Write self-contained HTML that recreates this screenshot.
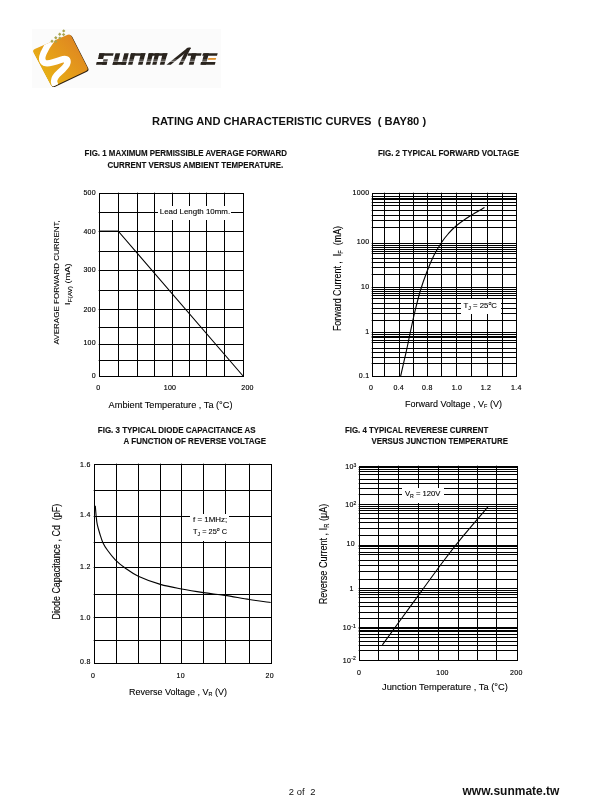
<!DOCTYPE html>
<html><head><meta charset="utf-8"><style>
html,body{margin:0;padding:0;background:#fff;width:610px;height:810px;overflow:hidden}
svg{position:absolute;left:0;top:0;font-family:"Liberation Sans",sans-serif;will-change:transform}
.tk{font-size:7px;fill:#000;letter-spacing:0.3px;stroke:#000;stroke-width:0.15px}
.ax{font-size:8.5px;fill:#000;stroke:#000;stroke-width:0.1px}
.ti{font-size:9.8px;font-weight:bold;fill:#111;stroke:#111;stroke-width:0.15px}
.hd{font-size:10.3px;font-weight:bold;fill:#111}
.an{font-size:7.5px;fill:#000;stroke:#000;stroke-width:0.1px}
</style></head><body>
<svg width="610" height="810" viewBox="0 0 610 810">
<rect x="32" y="29" width="189" height="59" fill="#fbfbfb"/>
<defs><linearGradient id="lg" x1="34" y1="84" x2="86" y2="38" gradientUnits="userSpaceOnUse"><stop offset="0" stop-color="#e9bc10"/><stop offset="0.5" stop-color="#e59d1a"/><stop offset="1" stop-color="#dc7f24"/></linearGradient>
<clipPath id="sqc"><path d="M33.51 52.48 Q32.20 50.00 34.77 48.90 L67.63 34.80 Q70.20 33.70 71.47 36.20 L87.23 67.20 Q88.50 69.70 85.97 70.90 L54.33 85.90 Q51.80 87.10 50.49 84.62 Z"/></clipPath></defs>
<path d="M33.51 52.48 Q32.20 50.00 34.77 48.90 L67.63 34.80 Q70.20 33.70 71.47 36.20 L87.23 67.20 Q88.50 69.70 85.97 70.90 L54.33 85.90 Q51.80 87.10 50.49 84.62 Z" fill="#2c1e10" transform="translate(0.9 0.8)"/>
<path d="M33.51 52.48 Q32.20 50.00 34.77 48.90 L67.63 34.80 Q70.20 33.70 71.47 36.20 L87.23 67.20 Q88.50 69.70 85.97 70.90 L54.33 85.90 Q51.80 87.10 50.49 84.62 Z" fill="url(#lg)"/>
<path d="M52.5 38.5 C49 43 46 47.5 43.6 53 C41.5 58 41.5 61.5 45 63 C49 64.3 55 62 61 59.8 C65.5 58.2 68 59 67.5 62.5 C67 66 63 69.5 59.5 72.5 C55.5 76 53.5 79 54.2 82.5 C54.7 85 56 87 57.5 89" fill="none" stroke="#fff" stroke-width="6.4" stroke-linecap="round" clip-path="url(#sqc)"/>
<path d="M63.7 29.2l1.7 1.7l-1.7 1.7l-1.7 -1.7z" fill="#a9a550"/>
<path d="M59.7 32.5l1.7 1.7l-1.7 1.7l-1.7 -1.7z" fill="#a9a550"/>
<path d="M63.6 32.9l1.7 1.7l-1.7 1.7l-1.7 -1.7z" fill="#a9a550"/>
<path d="M55.8 36l1.7 1.7l-1.7 1.7l-1.7 -1.7z" fill="#a9a550"/>
<path d="M59.8 36.4l1.7 1.7l-1.7 1.7l-1.7 -1.7z" fill="#a9a550"/>
<path d="M52 39.6l1.7 1.7l-1.7 1.7l-1.7 -1.7z" fill="#a9a550"/>
<path d="M55.8 39.9l1.7 1.7l-1.7 1.7l-1.7 -1.7z" fill="#a9a550"/>
<polygon points="99.39,53.2 113.69,53.2 113.01,55.8 98.71,55.8" fill="#2a241e"/>
<polygon points="99.39,53.2 104.59,53.2 103.11,58.9 97.91,58.9" fill="#2a241e"/>
<polygon points="103.43,59.2 107.93,59.2 106.5,64.7 102,64.7" fill="#2a241e"/>
<polygon points="96.68,62.1 107.18,62.1 106.5,64.7 96,64.7" fill="#2a241e"/>
<polygon points="115.49,53.2 120.19,53.2 117.2,64.7 112.5,64.7" fill="#2a241e"/>
<polygon points="124.29,53.2 128.79,53.2 125.8,64.7 121.3,64.7" fill="#2a241e"/>
<polygon points="113.18,62.1 126.48,62.1 125.8,64.7 112.5,64.7" fill="#2a241e"/>
<polygon points="130.99,53.2 145.49,53.2 144.81,55.8 130.31,55.8" fill="#2a241e"/>
<polygon points="130.99,53.2 135.39,53.2 132.4,64.7 128,64.7" fill="#2a241e"/>
<polygon points="140.99,53.2 145.49,53.2 142.5,64.7 138,64.7" fill="#2a241e"/>
<polygon points="148.79,53.2 167.59,53.2 166.91,55.8 148.11,55.8" fill="#2a241e"/>
<polygon points="148.79,53.2 153.19,53.2 150.2,64.7 145.8,64.7" fill="#2a241e"/>
<polygon points="155.19,53.2 159.39,53.2 156.4,64.7 152.2,64.7" fill="#2a241e"/>
<polygon points="162.79,53.2 167.39,53.2 164.4,64.7 159.8,64.7" fill="#2a241e"/>
<polygon points="166.5,64.7 170.8,64.7 190.9,48.6 190.2,47.6 187.6,47.7" fill="#2a241e"/>
<polygon points="187.0,48.0 190.9,47.8 182.6,64.7 178.6,64.7" fill="#2a241e"/>
<polygon points="188.29,53.2 201.59,53.2 200.91,55.8 187.61,55.8" fill="#2a241e"/>
<polygon points="191.79,53.2 196.59,53.2 193.6,64.7 188.8,64.7" fill="#2a241e"/>
<polygon points="202.99,53.2 217.69,53.2 217.01,55.8 202.31,55.8" fill="#2a241e"/>
<polygon points="204.19,53.2 208.89,53.2 205.9,64.7 201.2,64.7" fill="#2a241e"/>
<polygon points="200.98,62.1 215.48,62.1 214.8,64.7 200.3,64.7" fill="#2a241e"/>
<polygon points="208.37,57.9 216.17,57.9 215.62,60 207.82,60" fill="#e0902e"/>
<rect x="90" y="59.6" width="130" height="0.9" fill="#fff" fill-opacity="0.45"/>
<rect x="90" y="61.3" width="130" height="0.7" fill="#fff" fill-opacity="0.7"/>
<path d="M99.5 193.5V376.5M118.5 193.5V376.5M137.5 193.5V376.5M154.5 193.5V376.5M172.5 193.5V205.8M172.5 220.2V376.5M189.5 193.5V205.8M189.5 220.2V376.5M206.5 193.5V205.8M206.5 220.2V376.5M224.5 193.5V205.8M224.5 220.2V376.5M243.5 193.5V376.5M99.5 193.5H243.5M99.5 212.5H157M231 212.5H243.5M99.5 231.5H243.5M99.5 251.5H243.5M99.5 270.5H243.5M99.5 290.5H243.5M99.5 309.5H243.5M99.5 327.5H243.5M99.5 344.5H243.5M99.5 360.5H243.5M99.5 376.5H243.5" stroke="#000" stroke-width="1" fill="none" stroke-linecap="square" shape-rendering="crispEdges"/>
<path d="M118.5 192V193M137.5 192V193M154.5 192V193M172.5 192V193M189.5 192V193M206.5 192V193M224.5 192V193M98 212.5H99M98 231.5H99M98 251.5H99M98 270.5H99M98 290.5H99M98 309.5H99M98 327.5H99M98 344.5H99M98 360.5H99" stroke="#b0b0b0" stroke-width="1" fill="none" shape-rendering="crispEdges"/>
<path d="M99.5 231.5H118.5L243.5 376.5" stroke="#000" stroke-width="1.1" fill="none"/>
<path d="M99 230.6H118.5" stroke="#000" stroke-width="0.8" stroke-opacity="0.6" fill="none"/>
<path d="M372.5 193.5V376.5M384.5 193.5V376.5M399.5 193.5V376.5M413.5 193.5V376.5M427.5 193.5V376.5M441.5 193.5V376.5M456.5 193.5V376.5M471.5 193.5V298.6M471.5 314.7V376.5M487.5 193.5V298.6M487.5 314.7V376.5M502.5 193.5V376.5M516.5 193.5V376.5M372.5 193.5H516.5M372.5 196.5H516.5M372.5 198.5H516.5M372.5 199.5H516.5M372.5 202.5H516.5M372.5 205.5H516.5M372.5 210.5H516.5M372.5 215.5H516.5M372.5 220.5H516.5M372.5 227.5H516.5M372.5 243.5H516.5M372.5 245.5H516.5M372.5 247.5H516.5M372.5 249.5H516.5M372.5 251.5H516.5M372.5 253.5H516.5M372.5 258.5H516.5M372.5 262.5H516.5M372.5 267.5H516.5M372.5 274.5H516.5M372.5 287.5H516.5M372.5 289.5H516.5M372.5 291.5H516.5M372.5 293.5H516.5M372.5 295.5H516.5M372.5 298.5H516.5M372.5 303.5H460.3M501.1 303.5H516.5M372.5 308.5H460.3M501.1 308.5H516.5M372.5 313.5H460.3M501.1 313.5H516.5M372.5 320.5H516.5M372.5 332.5H516.5M372.5 334.5H516.5M372.5 336.5H516.5M372.5 337.5H516.5M372.5 340.5H516.5M372.5 342.5H516.5M372.5 348.5H516.5M372.5 352.5H516.5M372.5 357.5H516.5M372.5 363.5H516.5M372.5 376.5H516.5" stroke="#000" stroke-width="1" fill="none" stroke-linecap="square" shape-rendering="crispEdges"/>
<path d="M384.5 192V193M399.5 192V193M413.5 192V193M427.5 192V193M441.5 192V193M456.5 192V193M471.5 192V193M487.5 192V193M502.5 192V193M371 196.5H372M371 198.5H372M371 199.5H372M371 202.5H372M371 205.5H372M371 210.5H372M371 215.5H372M371 220.5H372M371 227.5H372M371 243.5H372M371 245.5H372M371 247.5H372M371 249.5H372M371 251.5H372M371 253.5H372M371 258.5H372M371 262.5H372M371 267.5H372M371 274.5H372M371 287.5H372M371 289.5H372M371 291.5H372M371 293.5H372M371 295.5H372M371 298.5H372M371 303.5H372M371 308.5H372M371 313.5H372M371 320.5H372M371 332.5H372M371 334.5H372M371 336.5H372M371 337.5H372M371 340.5H372M371 342.5H372M371 348.5H372M371 352.5H372M371 357.5H372M371 363.5H372" stroke="#b0b0b0" stroke-width="1" fill="none" shape-rendering="crispEdges"/>
<path d="M400.6 376.3 C401.52 372.28 404.63 358.8 406.1 352.2 C407.57 345.6 408.28 341.97 409.4 336.7 C410.52 331.43 411.87 324.87 412.8 320.6 C413.73 316.33 413.73 316.12 415 311.1 C416.27 306.08 418.4 297.1 420.4 290.5 C422.4 283.9 424.72 277.4 427 271.5 C429.28 265.6 431.65 259.98 434.1 255.1 C436.55 250.22 439.37 245.72 441.7 242.2 C444.03 238.68 445.67 236.73 448.1 234 C450.53 231.27 452.58 228.83 456.3 225.8 C460.02 222.77 465.7 218.83 470.4 215.8 C475.1 212.77 482.15 208.97 484.5 207.6" stroke="#000" stroke-width="1.1" fill="none"/>
<path d="M94.5 464.5V663.5M116.5 464.5V663.5M138.5 464.5V663.5M160.5 464.5V663.5M181.5 464.5V663.5M203.5 464.5V513.5M203.5 541.2V663.5M225.5 464.5V513.5M225.5 541.2V663.5M249.5 464.5V663.5M271.5 464.5V663.5M94.5 464.5H271.5M94.5 490.5H271.5M94.5 516.5H189.7M229.9 516.5H271.5M94.5 542.5H271.5M94.5 567.5H271.5M94.5 594.5H271.5M94.5 617.5H271.5M94.5 640.5H271.5M94.5 663.5H271.5" stroke="#000" stroke-width="1" fill="none" stroke-linecap="square" shape-rendering="crispEdges"/>
<path d="M116.5 463V464M138.5 463V464M160.5 463V464M181.5 463V464M203.5 463V464M225.5 463V464M249.5 463V464M93 490.5H94M93 516.5H94M93 542.5H94M93 567.5H94M93 594.5H94M93 617.5H94M93 640.5H94" stroke="#b0b0b0" stroke-width="1" fill="none" shape-rendering="crispEdges"/>
<path d="M95.3 505.8 C95.45 507.58 95.87 513.37 96.2 516.5 C96.53 519.63 96.68 521.68 97.3 524.6 C97.92 527.52 98.98 531.03 99.9 534 C100.82 536.97 101.53 539.68 102.8 542.4 C104.07 545.12 105.42 547.4 107.5 550.3 C109.58 553.2 112.37 556.85 115.3 559.8 C118.23 562.75 121.27 565.27 125.1 568 C128.93 570.73 132.42 573.47 138.3 576.2 C144.18 578.93 153.17 582.27 160.4 584.4 C167.63 586.53 174.52 587.63 181.7 589 C188.88 590.37 196.32 591.53 203.5 592.6 C210.68 593.67 217.15 594.25 224.8 595.4 C232.45 596.55 241.75 598.32 249.4 599.5 C257.05 600.68 267.15 602 270.7 602.5" stroke="#000" stroke-width="1.1" fill="none"/>
<path d="M359.5 466.5V660.5M378.5 466.5V660.5M398.5 466.5V660.5M418.5 466.5V487.4M418.5 503.1V660.5M438.5 466.5V487.4M438.5 503.1V660.5M458.5 466.5V660.5M477.5 466.5V660.5M496.5 466.5V660.5M517.5 466.5V660.5M359.5 466.5H517.5M359.5 467.5H517.5M359.5 469.5H517.5M359.5 471.5H517.5M359.5 474.5H517.5M359.5 479.5H517.5M359.5 483.5H517.5M359.5 488.5H401.8M444 488.5H517.5M359.5 494.5H401.8M444 494.5H517.5M359.5 504.5H517.5M359.5 506.5H517.5M359.5 508.5H517.5M359.5 510.5H517.5M359.5 513.5H517.5M359.5 518.5H517.5M359.5 522.5H517.5M359.5 528.5H517.5M359.5 535.5H517.5M359.5 545.5H517.5M359.5 546.5H517.5M359.5 548.5H517.5M359.5 552.5H517.5M359.5 554.5H517.5M359.5 560.5H517.5M359.5 565.5H517.5M359.5 571.5H517.5M359.5 579.5H517.5M359.5 588.5H517.5M359.5 590.5H517.5M359.5 592.5H517.5M359.5 594.5H517.5M359.5 597.5H517.5M359.5 602.5H517.5M359.5 606.5H517.5M359.5 612.5H517.5M359.5 618.5H517.5M359.5 627.5H517.5M359.5 628.5H517.5M359.5 630.5H517.5M359.5 631.5H517.5M359.5 634.5H517.5M359.5 637.5H517.5M359.5 641.5H517.5M359.5 645.5H517.5M359.5 650.5H517.5M359.5 660.5H517.5" stroke="#000" stroke-width="1" fill="none" stroke-linecap="square" shape-rendering="crispEdges"/>
<path d="M378.5 465V466M398.5 465V466M418.5 465V466M438.5 465V466M458.5 465V466M477.5 465V466M496.5 465V466M358 467.5H359M358 469.5H359M358 471.5H359M358 474.5H359M358 479.5H359M358 483.5H359M358 488.5H359M358 494.5H359M358 504.5H359M358 506.5H359M358 508.5H359M358 510.5H359M358 513.5H359M358 518.5H359M358 522.5H359M358 528.5H359M358 535.5H359M358 545.5H359M358 546.5H359M358 548.5H359M358 552.5H359M358 554.5H359M358 560.5H359M358 565.5H359M358 571.5H359M358 579.5H359M358 588.5H359M358 590.5H359M358 592.5H359M358 594.5H359M358 597.5H359M358 602.5H359M358 606.5H359M358 612.5H359M358 618.5H359M358 627.5H359M358 628.5H359M358 630.5H359M358 631.5H359M358 634.5H359M358 637.5H359M358 641.5H359M358 645.5H359M358 650.5H359" stroke="#b0b0b0" stroke-width="1" fill="none" shape-rendering="crispEdges"/>
<path d="M382.4 644.9 C387 638.57 399.68 621.05 410 606.9 C420.32 592.75 435.13 572.18 444.3 560 C453.47 547.82 457.73 542.65 465 533.8 C472.27 524.95 484.08 511.38 487.9 506.9" stroke="#000" stroke-width="1.1" fill="none"/>
<text x="151.9" y="124.8" text-anchor="start" class="hd" textLength="274.2" lengthAdjust="spacingAndGlyphs" >RATING AND CHARACTERISTIC CURVES&#160;&#160;( BAY80 )</text>
<text x="84.6" y="156.1" text-anchor="start" class="ti" textLength="202.4" lengthAdjust="spacingAndGlyphs" >FIG. 1 MAXIMUM PERMISSIBLE AVERAGE FORWARD</text>
<text x="107.5" y="168.1" text-anchor="start" class="ti" textLength="175.8" lengthAdjust="spacingAndGlyphs" >CURRENT VERSUS AMBIENT TEMPERATURE.</text>
<text x="377.9" y="155.8" text-anchor="start" class="ti" textLength="141.2" lengthAdjust="spacingAndGlyphs" >FIG. 2 TYPICAL FORWARD VOLTAGE</text>
<text x="97.8" y="432.5" text-anchor="start" class="ti" textLength="157.9" lengthAdjust="spacingAndGlyphs" >FIG. 3 TYPICAL DIODE CAPACITANCE AS</text>
<text x="123.6" y="444.3" text-anchor="start" class="ti" textLength="142.4" lengthAdjust="spacingAndGlyphs" >A FUNCTION OF REVERSE VOLTAGE</text>
<text x="345" y="432.5" text-anchor="start" class="ti" textLength="143.3" lengthAdjust="spacingAndGlyphs" >FIG. 4 TYPICAL REVERESE CURRENT</text>
<text x="371.4" y="444.1" text-anchor="start" class="ti" textLength="136.5" lengthAdjust="spacingAndGlyphs" >VERSUS JUNCTION TEMPERATURE</text>
<text x="96" y="194.8" text-anchor="end" class="tk">500</text>
<text x="96" y="234.4" text-anchor="end" class="tk">400</text>
<text x="96" y="272.2" text-anchor="end" class="tk">300</text>
<text x="96" y="312.2" text-anchor="end" class="tk">200</text>
<text x="96" y="345" text-anchor="end" class="tk">100</text>
<text x="96" y="377.6" text-anchor="end" class="tk">0</text>
<text x="98.3" y="390.2" text-anchor="middle" class="tk">0</text>
<text x="170" y="390.2" text-anchor="middle" class="tk">100</text>
<text x="247.5" y="390.2" text-anchor="middle" class="tk">200</text>
<text x="108.6" y="407.8" class="ax" style="font-size:9.6px" textLength="123.9" lengthAdjust="spacingAndGlyphs">Ambient Temperature , Ta (&#176;C)</text>
<text x="159.8" y="213.9" class="an" style="font-size:6.6px" textLength="70.3" lengthAdjust="spacingAndGlyphs">Lead Length 10mm.</text>
<g transform="translate(58.6 344.4) rotate(-90) scale(1 0.85)"><text x="0" y="0" class="ax" style="font-size:8.5px" textLength="124.2" lengthAdjust="spacingAndGlyphs">AVERAGE FORWARD CURRENT,</text></g>
<g transform="translate(70.3 305) rotate(-90) scale(1 0.9)"><text x="0" y="0" class="ax" style="font-size:8px" textLength="41.7" lengthAdjust="spacingAndGlyphs">I<tspan font-size="5.5" dy="1.6">F(AV)</tspan><tspan dy="-1.6"> (mA)</tspan></text></g>
<text x="369.4" y="194.8" text-anchor="end" class="tk">1000</text>
<text x="369.4" y="244.2" text-anchor="end" class="tk">100</text>
<text x="369.4" y="289.2" text-anchor="end" class="tk">10</text>
<text x="369.4" y="333.5" text-anchor="end" class="tk">1</text>
<text x="369.4" y="377.5" text-anchor="end" class="tk">0.1</text>
<text x="371" y="389.8" text-anchor="middle" class="tk">0</text>
<text x="398.7" y="389.8" text-anchor="middle" class="tk">0.4</text>
<text x="427.4" y="389.8" text-anchor="middle" class="tk">0.8</text>
<text x="457" y="389.8" text-anchor="middle" class="tk">1.0</text>
<text x="486" y="389.8" text-anchor="middle" class="tk">1.2</text>
<text x="516.3" y="389.8" text-anchor="middle" class="tk">1.4</text>
<text x="405" y="406.7" class="ax" style="font-size:9.1px" textLength="96.9" lengthAdjust="spacingAndGlyphs">Forward Voltage , V<tspan font-size="5.5" dy="1.6">F</tspan><tspan dy="-1.6"> (V)</tspan></text>
<text x="463.5" y="308.1" class="an" style="font-size:7.4px" textLength="33.5" lengthAdjust="spacingAndGlyphs">T<tspan font-size="5" dy="1.5">J</tspan><tspan dy="-1.5"> = 25</tspan><tspan font-size="5" dy="-2.8">o</tspan><tspan dy="2.8">C</tspan></text>
<g transform="translate(341 331.1) rotate(-90) scale(1 1.25)"><text x="0" y="0" class="ax" style="font-size:8.5px" textLength="105.2" lengthAdjust="spacingAndGlyphs">Forward Current ,&#160; I<tspan font-size="5.5" dy="1.6">F</tspan><tspan dy="-1.6">&#160; (mA)</tspan></text></g>
<text x="90.6" y="466.6" text-anchor="end" class="tk">1.6</text>
<text x="90.6" y="517.3" text-anchor="end" class="tk">1.4</text>
<text x="90.6" y="568.9" text-anchor="end" class="tk">1.2</text>
<text x="90.6" y="620" text-anchor="end" class="tk">1.0</text>
<text x="90.6" y="664" text-anchor="end" class="tk">0.8</text>
<text x="93" y="678" text-anchor="middle" class="tk">0</text>
<text x="180.7" y="678" text-anchor="middle" class="tk">10</text>
<text x="269.7" y="678" text-anchor="middle" class="tk">20</text>
<text x="129" y="694.7" class="ax" style="font-size:9.1px" textLength="97.9" lengthAdjust="spacingAndGlyphs">Reverse Voltage , V<tspan font-size="5.5" dy="1.6">R</tspan><tspan dy="-1.6"> (V)</tspan></text>
<text x="193.1" y="522" class="an" style="font-size:6.7px" textLength="34.1" lengthAdjust="spacingAndGlyphs">f = 1MHz;</text>
<text x="193.1" y="534" class="an" style="font-size:7.2px" textLength="33.9" lengthAdjust="spacingAndGlyphs">T<tspan font-size="5" dy="1.5">J</tspan><tspan dy="-1.5"> = 25</tspan><tspan font-size="5" dy="-2.8">o</tspan><tspan dy="2.8"> C</tspan></text>
<g transform="translate(59.8 619.4) rotate(-90) scale(1 1.25)"><text x="0" y="0" class="ax" style="font-size:8.5px" textLength="115.6" lengthAdjust="spacingAndGlyphs">Diode Capacitance , Cd&#160; (pF)</text></g>
<text x="356.7" y="469" text-anchor="end" class="tk">10<tspan font-size="5" dy="-2.5">3</tspan></text>
<text x="356.7" y="507.3" text-anchor="end" class="tk">10<tspan font-size="5" dy="-2.5">2</tspan></text>
<text x="355" y="545.7" text-anchor="end" class="tk">10</text>
<text x="353.8" y="590.5" text-anchor="end" class="tk">1</text>
<text x="356.2" y="630.1" text-anchor="end" class="tk">10<tspan font-size="5" dy="-2.5">-1</tspan></text>
<text x="356.2" y="662.5" text-anchor="end" class="tk">10<tspan font-size="5" dy="-2.5">-2</tspan></text>
<text x="359" y="674.5" text-anchor="middle" class="tk">0</text>
<text x="442.5" y="674.5" text-anchor="middle" class="tk">100</text>
<text x="516.4" y="674.5" text-anchor="middle" class="tk">200</text>
<text x="382" y="690.2" class="ax" style="font-size:9.3px" textLength="125.9" lengthAdjust="spacingAndGlyphs">Junction Temperature , Ta (&#176;C)</text>
<text x="404.9" y="496.2" class="an" style="font-size:7.4px" textLength="35.6" lengthAdjust="spacingAndGlyphs">V<tspan font-size="5" dy="1.5">R</tspan><tspan dy="-1.5"> = 120V</tspan></text>
<g transform="translate(327.1 604.3) rotate(-90) scale(1 1.22)"><text x="0" y="0" class="ax" style="font-size:8.5px" textLength="100.5" lengthAdjust="spacingAndGlyphs">Reverse Current , I<tspan font-size="5.5" dy="1.6">R</tspan><tspan dy="-1.6"> (&#956;A)</tspan></text></g>
<text x="288.8" y="795" style="font-size:9.4px;fill:#111" textLength="26.6" lengthAdjust="spacing">2 of&#160; 2</text>
<text x="462.5" y="795.2" style="font-size:12px;font-weight:bold;fill:#111">www.sunmate.tw</text>
</svg>
</body></html>
